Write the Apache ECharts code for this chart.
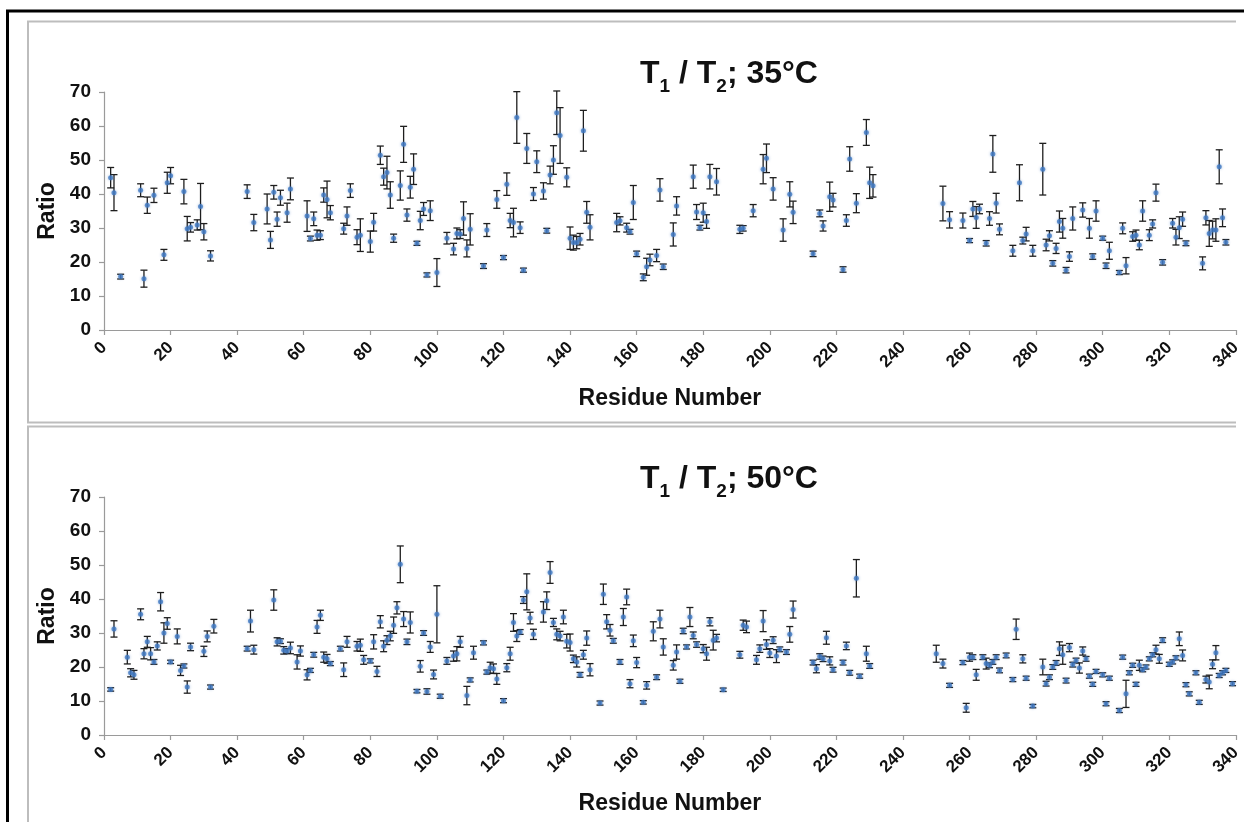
<!DOCTYPE html>
<html>
<head>
<meta charset="utf-8">
<script src="https://cdn.jsdelivr.net/npm/echarts@6/dist/echarts.min.js"></script>
<style>
html,body{margin:0;padding:0;background:#fff;}
#chart{width:1244px;height:822px;}
</style>
</head>
<body>
<div id="chart"></div>
<script>
// ---- Data: T1/T2 ratio at 35 °C ----
const res35 = [2,3,5,11,12,13,15,18,19,20,24,25,26,28,29,30,32,43,45,49,50,51,52,53,55,56,61,62,63,64,65,66,67,68,72,73,74,76,77,80,81,83,84,85,86,87,89,90,91,92,93,94,95,96,97,98,100,103,105,106,107,108,109,110,114,115,118,120,121,122,123,124,125,126,127,129,130,132,133,134,135,136,137,139,140,141,142,143,144,145,146,154,155,157,158,159,160,162,163,164,166,167,168,171,172,177,178,179,180,181,182,184,191,192,195,198,199,201,204,206,207,213,215,216,218,219,222,223,224,226,229,230,231,252,254,258,260,261,262,263,265,266,267,268,269,273,275,276,277,279,282,283,284,285,286,287,288,289,290,291,294,296,297,298,300,301,302,305,306,307,309,310,311,312,314,315,316,318,321,322,323,324,325,330,331,332,333,334,335,336,337];
const val35 = [44.8,40.4,15.7,41.1,15.1,36.7,39.6,22.1,43.3,45.4,40.7,29.8,30.2,30.9,36.3,28.9,21.8,40.7,31.6,35.6,26.5,40.5,32.6,38.9,34.5,41.5,33.5,26.9,32.7,27.9,27.9,39.7,38.4,34.5,29.8,33.5,41.0,27.3,27.9,26.0,31.7,51.4,45.1,46.3,39.7,27.0,42.5,54.6,33.8,42.0,47.3,25.5,32.2,35.6,16.2,35.1,16.9,27.0,23.8,28.4,28.2,32.8,24.0,29.6,18.8,29.4,38.4,21.3,42.9,32.2,31.6,62.5,30.1,17.6,53.4,40.0,49.5,40.9,29.2,45.6,50.0,63.9,57.2,44.9,27.0,25.7,25.7,26.7,58.6,34.6,30.2,31.6,32.1,30.1,28.9,37.5,22.4,15.5,18.6,20.6,21.9,41.2,18.6,28.1,36.5,45.1,34.7,30.1,34.5,31.9,45.1,43.6,29.6,29.9,35.1,47.3,50.5,41.5,29.4,39.9,34.6,22.4,34.3,30.6,39.2,38.2,17.8,32.2,50.3,37.3,58.1,43.3,42.4,37.2,32.4,32.2,26.3,35.6,33.1,35.6,25.5,32.8,51.8,37.3,29.6,23.3,43.3,26.3,28.2,23.3,47.3,25.0,27.7,19.6,24.0,31.9,29.9,17.6,21.6,32.8,35.3,29.9,21.6,35.0,27.0,18.9,23.3,16.9,29.9,18.9,27.5,27.9,25.0,35.0,27.9,31.2,40.4,19.9,31.4,27.3,30.1,32.6,25.5,19.6,33.0,28.4,29.4,29.4,48.0,33.0,25.8];
const err35 = [3.0,5.3,0.7,1.9,2.5,2.4,2.1,1.6,3.1,2.4,3.6,3.6,1.4,1.5,6.8,2.4,1.5,2.0,2.4,4.4,2.5,2.0,2.1,2.2,2.8,3.2,4.5,0.7,2.0,1.5,1.3,2.1,5.4,2.1,1.6,2.7,2.0,2.2,4.8,3.1,2.6,2.7,2.5,4.8,3.9,1.2,4.3,5.3,1.8,3.2,4.5,0.6,2.7,1.9,0.6,2.9,4.1,1.7,1.7,1.6,1.3,4.9,2.5,4.6,0.7,1.9,2.6,0.6,3.3,2.1,4.2,7.6,1.7,0.6,4.4,1.9,3.2,2.4,0.7,2.6,4.2,6.4,8.2,2.8,3.3,2.2,1.8,1.7,6.0,3.2,3.7,2.7,1.2,1.3,0.7,5.0,0.8,1.0,2.5,1.7,1.8,3.3,0.8,3.4,2.7,3.4,2.2,0.7,2.8,2.0,3.6,3.9,1.2,0.8,1.8,4.3,4.2,3.3,3.3,3.7,3.3,0.8,1.0,1.5,4.3,2.0,0.8,1.7,3.6,2.8,3.8,4.6,3.3,5.1,2.4,2.2,0.6,2.2,3.2,1.4,0.8,2.0,5.4,2.9,1.6,1.6,5.3,1.0,2.0,1.6,7.6,1.7,1.5,0.8,1.5,3.1,2.9,0.8,1.4,3.4,2.1,2.9,0.8,3.0,0.6,0.8,2.5,0.6,1.6,2.4,1.4,1.5,1.4,3.0,1.6,1.2,2.5,0.8,1.4,2.3,3.2,2.1,0.7,1.9,2.1,3.8,2.6,3.3,5.0,2.6,0.8];

// ---- Data: T1/T2 ratio at 50 °C ----
const res50 = [2,3,7,8,9,11,12,13,14,15,16,17,18,19,20,22,23,24,25,26,30,31,32,33,43,44,45,51,52,53,54,55,56,58,59,61,62,63,64,65,66,67,68,71,72,73,76,77,78,80,81,82,83,84,85,86,87,88,89,90,91,92,94,95,96,97,98,99,100,101,103,105,106,107,109,110,111,114,115,116,117,118,120,121,122,123,124,125,126,127,128,129,132,133,134,135,136,137,138,139,140,141,142,143,144,145,146,149,150,151,152,153,155,156,157,158,159,160,162,163,165,166,167,168,171,172,173,174,175,176,177,178,180,181,182,183,184,186,191,192,193,196,197,198,199,200,201,202,203,205,206,207,213,214,215,216,217,218,219,222,223,224,226,227,229,230,250,252,254,258,259,260,261,262,264,265,266,267,268,269,271,273,274,276,277,279,282,283,284,285,286,287,288,289,290,291,292,293,294,295,296,297,298,300,301,302,305,306,307,308,309,310,311,312,313,314,315,316,317,318,320,321,322,323,324,325,326,328,329,331,332,333,334,335,336,337,339];
const val50 = [13.4,31.2,22.9,18.3,17.7,35.5,23.9,27.4,23.9,21.5,26.2,39.2,30.0,32.8,21.5,29.0,19.0,20.3,14.1,25.9,24.6,29.0,14.1,32.0,25.4,33.5,25.1,39.7,27.4,27.6,24.9,24.7,25.6,21.5,24.7,17.7,19.0,23.6,31.8,35.2,22.9,22.4,21.0,25.4,19.2,27.4,26.1,26.4,22.1,21.8,27.4,18.7,33.3,26.1,27.9,29.1,32.3,37.4,50.2,34.1,27.4,33.1,12.9,20.2,30.0,12.8,25.9,17.8,35.5,11.4,21.8,23.2,23.9,27.4,11.6,16.2,24.2,27.1,18.5,19.8,19.5,16.5,10.1,19.8,23.9,33.1,29.1,30.3,39.7,42.1,34.4,29.6,36.2,39.5,47.8,33.1,29.6,29.1,34.7,27.6,27.2,22.4,21.5,17.7,23.6,28.5,19.2,9.4,41.4,33.3,30.8,27.7,21.5,34.7,40.6,15.1,27.7,21.3,9.6,14.6,30.5,17.0,34.1,25.9,20.5,24.4,15.8,30.6,25.9,34.7,29.3,26.6,25.4,23.9,33.3,27.9,28.5,13.3,23.6,32.3,31.8,22.1,25.4,33.5,26.6,24.1,27.9,23.2,25.2,24.4,29.6,36.9,21.3,19.5,23.1,22.4,28.6,21.8,19.2,21.3,26.2,18.3,46.1,17.3,23.9,20.3,23.9,21.0,14.6,21.3,8.0,22.9,22.9,17.7,22.9,21.0,20.5,21.5,22.9,19.0,23.4,16.3,31.1,22.4,16.7,8.5,20.0,15.1,17.0,20.0,21.2,25.4,23.6,16.0,25.7,20.7,21.9,19.7,24.7,22.4,17.3,14.9,18.7,17.7,9.2,16.7,7.2,22.9,12.1,18.3,20.5,14.9,20.5,19.2,20.0,22.4,23.6,25.1,22.4,27.9,20.8,21.5,22.7,28.3,23.4,14.8,12.1,18.3,9.6,16.3,15.6,20.8,24.2,17.5,18.3,19.0,15.1];
const err50 = [0.5,2.4,2.0,1.2,1.3,1.6,1.5,1.6,1.8,0.7,1.2,2.7,3.0,1.7,0.5,2.2,1.5,0.6,1.8,1.1,1.5,1.6,0.6,2.0,0.7,3.2,1.3,3.0,1.2,0.7,1.1,0.7,1.7,2.1,1.5,1.5,0.6,0.7,1.9,1.5,1.5,1.3,0.6,0.7,2.0,1.6,1.4,1.8,1.3,0.6,2.1,1.5,1.8,1.6,1.3,1.4,2.4,1.8,5.4,2.2,0.8,3.1,0.5,1.7,0.7,0.8,1.6,1.3,8.4,0.6,1.0,1.5,2.1,1.6,2.7,0.6,1.9,0.6,0.6,1.6,1.4,1.6,0.6,1.2,1.9,2.6,1.6,0.7,1.0,5.3,1.7,1.5,3.0,2.6,3.2,1.2,1.6,1.4,2.0,2.0,2.5,1.1,1.5,0.7,1.3,2.1,1.8,0.6,3.0,2.1,1.7,0.7,0.7,2.5,2.3,1.2,1.7,1.5,0.5,1.1,2.8,0.7,2.6,2.4,1.4,2.1,0.6,0.8,0.6,2.8,1.0,0.8,1.2,1.9,1.2,2.9,1.1,0.5,1.0,1.5,1.7,1.3,1.1,3.1,1.4,1.3,1.0,1.9,0.7,0.7,2.3,2.5,0.7,1.2,0.8,0.8,1.9,1.2,0.7,0.7,1.1,0.7,5.5,0.6,2.2,0.7,2.5,1.3,0.6,0.6,1.3,1.2,0.7,1.6,0.7,1.6,0.7,0.7,0.7,0.7,0.7,0.6,3.0,1.2,0.6,0.5,2.3,0.7,0.7,0.7,0.7,2.0,2.8,0.7,1.2,0.7,0.7,1.5,1.2,0.7,0.6,0.6,0.6,0.6,0.6,0.6,0.6,0.6,4.0,0.6,0.6,0.6,1.5,0.6,0.6,0.6,0.6,1.3,1.3,0.7,0.6,0.6,0.6,2.0,1.6,0.6,0.6,0.6,0.6,1.0,2.0,1.3,2.1,0.6,0.6,0.6,0.6];

// ---- Axis settings ----
const xMin = 0, xMax = 340, xStep = 20;
const yMin = 0, yMax = 70, yStep = 10;
const titles = ['{a|T}{s|1}{a| / T}{s|2}{a|; 35°C}', '{a|T}{s|1}{a| / T}{s|2}{a|; 50°C}'];
const xName = 'Residue Number';
const yName = 'Ratio';

const FONT = '"Liberation Sans", Arial, Helvetica, sans-serif';
const chart = echarts.init(document.getElementById('chart'), null, {renderer: 'canvas'});

function build(res, val, err) {
  return res.map((r, i) => [r, val[i], err[i]]);
}
const sets = [build(res35, val35, err35), build(res50, val50, err50)];

function errRender(params, api) {
  const x = api.value(0), v = api.value(1), e = api.value(2);
  const top = api.coord([x, v + e]);
  const bot = api.coord([x, v - e]);
  const hw = 3.5;
  const st = {stroke: '#1e1e1e', lineWidth: 1.3};
  return {
    type: 'group',
    children: [
      {type: 'line', shape: {x1: top[0], y1: top[1], x2: bot[0], y2: bot[1]}, style: st},
      {type: 'line', shape: {x1: top[0] - hw, y1: top[1], x2: top[0] + hw, y2: top[1]}, style: st},
      {type: 'line', shape: {x1: bot[0] - hw, y1: bot[1], x2: bot[0] + hw, y2: bot[1]}, style: st}
    ]
  };
}

const gridTops = [92, 497];
const grids = gridTops.map(t => ({left: 104, top: t, width: 1132, height: 238, containLabel: false}));

const axisLineStyle = {color: '#9a9a9a', width: 1.2};
const xAxes = [0, 1].map(i => ({
  type: 'value', gridIndex: i, min: xMin, max: xMax, interval: xStep,
  axisLine: {show: true, onZero: false, lineStyle: axisLineStyle},
  axisTick: {show: true, length: 5, lineStyle: axisLineStyle},
  splitLine: {show: false},
  axisLabel: {rotate: 45, margin: 15, fontFamily: FONT, fontWeight: 'bold', fontSize: 17, color: '#111'},
  name: xName, nameLocation: 'middle', nameGap: 57,
  nameTextStyle: {fontFamily: FONT, fontWeight: 'bold', fontSize: 23, color: '#111'}
}));
const yAxes = [0, 1].map(i => ({
  type: 'value', gridIndex: i, min: yMin, max: yMax, interval: yStep,
  axisLine: {show: true, lineStyle: axisLineStyle},
  axisTick: {show: true, length: 5, lineStyle: axisLineStyle},
  splitLine: {show: false},
  axisLabel: {margin: 13, fontFamily: FONT, fontWeight: 'bold', fontSize: 19, color: '#111'},
  name: yName, nameLocation: 'middle', nameGap: 45,
  nameTextStyle: {fontFamily: FONT, fontWeight: 'bold', fontSize: 23, color: '#111'}
}));

const series = [];
[0, 1].forEach(i => {
  series.push({
    type: 'custom', xAxisIndex: i, yAxisIndex: i, renderItem: errRender,
    data: sets[i], encode: {x: 0, y: 1}, z: 2, silent: true
  });
  series.push({
    type: 'scatter', xAxisIndex: i, yAxisIndex: i, data: sets[i].map(d => [d[0], d[1]]),
    symbol: 'circle', symbolSize: 5,
    itemStyle: {color: '#3f78c2', shadowBlur: 3, shadowColor: 'rgba(70,120,190,0.6)'},
    z: 3, silent: true
  });
});

const titleRich = {
  a: {fontFamily: FONT, fontWeight: 'bold', fontSize: 32, color: '#111', lineHeight: 34, verticalAlign: 'top'},
  s: {fontFamily: FONT, fontWeight: 'bold', fontSize: 19, color: '#111', lineHeight: 19, padding: [19, 0, 0, 0], verticalAlign: 'top'}
};

const panelStroke = {stroke: '#bdbdbd', lineWidth: 2, fill: null};

chart.setOption({
  animation: false,
  backgroundColor: '#fff',
  title: [0, 1].map(i => ({
    text: titles[i], left: 724, top: gridTops[i] - 39, textAlign: 'center',
    textStyle: {rich: titleRich}
  })),
  grid: grids,
  xAxis: xAxes,
  yAxis: yAxes,
  series: series,
  graphic: [
    {type: 'polyline', shape: {points: [[7.5, 822], [7.5, 11], [1244, 11]]}, style: {stroke: '#000', lineWidth: 3, fill: null}, z: 10},
    {type: 'polyline', shape: {points: [[1236, 21.5], [28, 21.5], [28, 422.5], [1236, 422.5]]}, style: panelStroke, z: 10},
    {type: 'polyline', shape: {points: [[1236, 426.5], [28, 426.5], [28, 822]]}, style: panelStroke, z: 10}
  ]
});
</script>
</body>
</html>
